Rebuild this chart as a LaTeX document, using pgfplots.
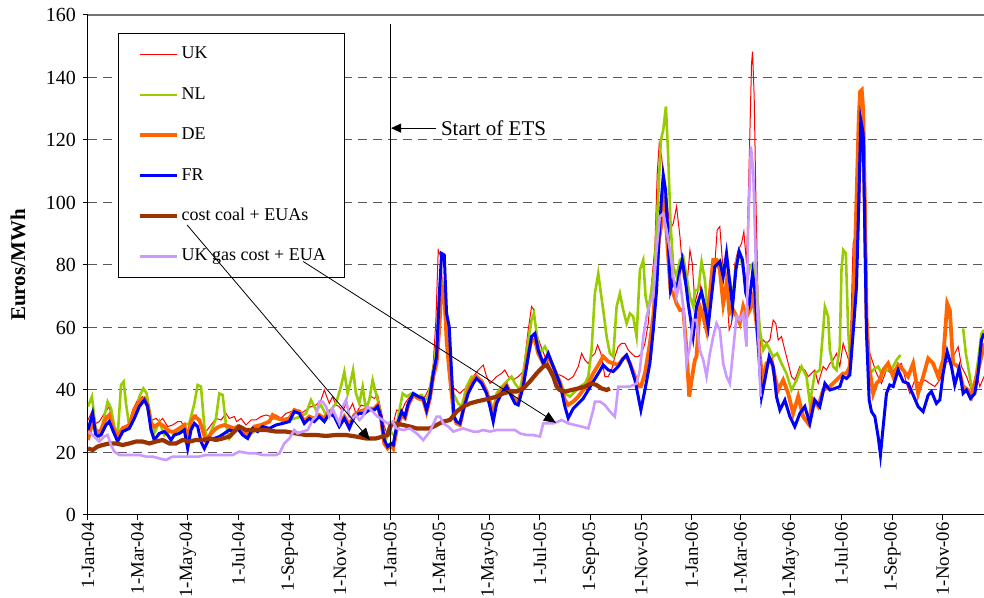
\documentclass[border=0pt]{standalone}
\usepackage{fontspec}
\setmainfont{Liberation Serif}
\usepackage{pgfplots}
\pgfplotsset{compat=1.18}
\usetikzlibrary{arrows.meta}
\definecolor{ukred}{RGB}{255,0,0}
\definecolor{nlgreen}{RGB}{153,204,0}
\definecolor{deorange}{RGB}{255,102,0}
\definecolor{frblue}{RGB}{0,0,255}
\definecolor{coalbrown}{RGB}{153,51,0}
\definecolor{gaspurple}{RGB}{204,153,255}
\begin{document}
\begin{tikzpicture}
\path[use as bounding box] (-44pt,-41.5pt) rectangle (448pt,257.5pt);
\begin{axis}[
  at={(0,0)}, anchor=south west, scale only axis,
  width=448pt, height=250pt,
  xmin=0, xmax=1085, ymin=0, ymax=160,
  axis x line*=bottom, axis y line*=left,
  axis line style={-, black, line width=0.5pt},
  xtick={0,60,121,182,244,305,366,425,486,547,609,670,731,790,851,912,974,1035},
  xticklabels={1-Jan-04,1-Mar-04,1-May-04,1-Jul-04,1-Sep-04,1-Nov-04,1-Jan-05,1-Mar-05,1-May-05,1-Jul-05,1-Sep-05,1-Nov-05,1-Jan-06,1-Mar-06,1-May-06,1-Jul-06,1-Sep-06,1-Nov-06},
  x tick label style={rotate=90, anchor=east, inner sep=1pt, font=\fontsize{9.4}{11}\selectfont},
  ytick={0,20,...,160},
  y tick label style={font=\fontsize{10}{12}\selectfont},
  /pgf/number format/assume math mode=true,
  tick align=outside, major tick length=2.5pt,
  tick style={black, line width=0.5pt},
  ymajorgrids,
  grid style={black!65, line width=0.5pt, dash pattern=on 4.5pt off 3pt},
  ylabel={\textbf{Euros/MWh}},
  ylabel style={font=\fontsize{10.5}{12}\selectfont, at={(axis description cs:-0.078,0.5)}, anchor=center},
  unbounded coords=jump,
  legend style={at={(0.0335,0.964)}, anchor=north west, draw=black, line width=0.5pt, fill=white,
    font=\fontsize{9}{10}\selectfont, inner xsep=9.5pt, inner ysep=6.25pt,
    row sep=11.7pt, column sep=1.5pt,
    nodes={inner sep=0pt, text height=6.5pt, text depth=2pt}},
  legend cell align=left,
  legend image code/.code={\draw[#1] (0pt,0pt) -- (18.5pt,0pt);},
]
% UK
\addplot[ukred, line width=0.5pt] table[row sep=\\] {
0 30.4\\ 5.6 33.6\\ 9.7 29.3\\ 13.7 29.9\\ 19.8 32.5\\ 25.8 34.7\\ 29.9 28.8\\ 35.9 26.1\\ 42 28.3\\ 48 28.3\\ 54.1 33.6\\ 60.1 36.8\\ 66.2 37.9\\ 70.2 35.7\\ 74.3 30.9\\ 78.3 30.4\\ 82.3 30.9\\ 86.4 29.9\\ 90.4 30.9\\ 96.5 28.3\\ 102.5 28.8\\ 108.6 29.9\\ 112.6 29.9\\ 116.6 28.3\\ 120.7 26.7\\ 124.7 30.9\\ 130.8 32\\ 136.8 28.3\\ 142.9 26.7\\ 148.9 28.8\\ 155 30.9\\ 161.1 30.4\\ 167.1 32.5\\ 171.1 30.9\\ 177.2 31.5\\
180 29.9\\ 185.3 30.9\\ 191.3 28.8\\ 197.4 30.4\\ 203.4 30.4\\ 209.5 31.5\\ 215.5 32\\ 221.6 31.5\\ 227.6 32\\ 233.7 30.9\\ 239.7 32.5\\ 245.8 33.1\\ 251.8 33.6\\ 257.9 32.5\\ 264 33.6\\ 270 34.7\\ 276.1 35.2\\ 282.1 36.8\\ 286.2 40\\ 289 37.9\\ 292.2 35.7\\ 296.2 37.9\\ 300.3 35.2\\ 304.3 34.7\\ 308.4 33.1\\ 312.4 35.7\\ 316.4 33.6\\ 320.5 35.7\\ 324.5 32.5\\ 330.6 35.2\\ 336.6 34.7\\ 342.7 37.9\\ 346.7 37.3\\ 350.7 38.4\\ 354.8 33.6\\ 358.8 28.3\\ 362.8 25.6\\ 366.9 27.2\\
369.6 29.3\\ 373.7 33.6\\ 379.7 33.1\\ 383.8 35.7\\ 389.8 37.9\\ 395.9 38.9\\ 401.9 37.9\\ 408 37.9\\ 414 41.1\\ 418.1 48.5\\ 421.3 62.4\\ 424.1 84.8\\ 427 82.7\\ 430.2 69.9\\ 433.4 63.5\\ 437.4 52.8\\ 441.5 41.1\\ 445.5 40\\ 450.4 38.9\\ 454.4 40\\ 460.4 41.1\\ 466.5 44.3\\ 472.6 46.4\\ 478.6 48\\ 482.6 44.3\\ 486.7 42.1\\ 490.7 43.2\\ 494.8 44.3\\ 500.8 45.3\\ 504.8 46.4\\ 508.9 44.3\\ 514.9 43.2\\ 521 44.3\\ 527 45.9\\ 533.1 59.2\\ 537.1 66.7\\ 540 65.6\\ 543.2 58.1\\ 547.2 54.9\\ 553.3 50.7\\ 557.3 48.5\\ 563.4 45.3\\
571.4 44.8\\ 575.5 44.3\\ 581.5 43.2\\ 587.6 44.3\\ 593.7 47.5\\ 597.7 51.7\\ 601.7 49.6\\ 605.8 48.5\\ 609.8 50.7\\ 613.8 51.7\\ 617.1 54.4\\ 621.1 51.7\\ 625.9 44.3\\ 630 44.3\\ 634 46.4\\ 638 50.7\\ 642.1 53.9\\ 646.1 54.9\\ 650.2 54.9\\ 654.2 52.8\\ 658.2 51.7\\ 662.3 50.7\\ 666.3 50.7\\ 670.3 51.7\\ 674.4 54.9\\ 678.4 61.3\\ 682.4 74.1\\ 686.5 85.9\\ 689.3 109.3\\ 691.7 118.9\\ 694.6 114.7\\ 697.8 105.1\\ 700.6 101.9\\ 704.6 91.2\\ 708.7 93.3\\ 712.7 98.7\\ 716.8 89.1\\ 720.8 76.3\\ 724.8 72\\ 728.9 84.8\\ 731.7 80.5\\ 734.9 67.7\\
736.9 69.9\\ 740.9 74.1\\ 745 66.7\\ 749 58.1\\ 752.2 62.4\\ 755 69.9\\ 759.1 80.5\\ 761.9 91.2\\ 765.1 92.3\\ 768.4 80.5\\ 772.4 77.3\\ 776.4 59.2\\ 779.3 61.3\\ 783.3 80.5\\ 787.3 84.8\\ 791.4 86.9\\ 794.2 90.7\\ 797.4 80.5\\ 800.6 112.5\\ 803.5 144.5\\ 804.7 148.3\\ 806.7 133.9\\ 808.7 101.9\\ 811.5 67.7\\ 814.4 53.9\\ 817.6 56\\ 821.6 54.9\\ 825.7 56\\ 829.7 62.4\\ 832.9 61.3\\ 835.8 56\\ 839.8 57.1\\ 843.8 52.8\\ 847.9 48.5\\ 851.9 44.3\\ 855.9 43.2\\ 862 47.5\\ 868 46.4\\ 872.1 44.3\\ 876.1 45.3\\ 880.1 46.4\\ 884.2 42.1\\ 890.2 47.5\\ 894.3 46.4\\ 898.3 48.5\\ 902.3 49.6\\ 906.4 51.7\\ 910.4 47.5\\
914.4 54.9\\ 918.5 51.7\\ 922.5 48.5\\ 926.5 86.9\\ 929.8 90.1\\ 932.6 84.8\\ 934.6 100.8\\ 936.6 122.1\\ 939.5 100.8\\ 942.7 63.5\\ 946.7 51.7\\ 950.8 48.5\\ 954.8 45.3\\ 960.8 42.1\\ 966.9 46.4\\ 973 45.3\\ 979 47.5\\ 985.1 48.5\\ 991.1 42.1\\ 995.2 38.9\\ 1001.2 43.2\\ 1007.3 42.1\\ 1013.3 43.2\\ 1019.4 42.1\\ 1025.4 41.1\\ 1031.5 43.2\\ 1037.5 48.5\\ 1043.6 49.6\\ 1049.6 51.7\\ 1053.7 53.9\\ 1057.7 47.5\\ 1063.8 44.3\\ 1069.8 40\\ 1075.9 45.3\\ 1079.9 41.1\\ 1085 44.3\\
};
\addlegendentry{UK}
% NL
\addplot[nlgreen, line width=1.3pt] table[row sep=\\] {
0 34.7\\ 4.8 37.9\\ 8.9 28.3\\ 13.7 25.1\\ 19.8 31.5\\ 23.8 36.3\\ 27.9 34.1\\ 31.9 28.3\\ 35.9 25.1\\ 40 41.6\\ 43.2 42.7\\ 46 35.7\\ 50 28.3\\ 56.1 30.9\\ 62.2 37.9\\ 67 40.5\\ 71 38.9\\ 75.1 32.5\\ 80.3 26.1\\ 86.4 29.9\\ 92.4 25.6\\ 98.5 27.2\\ 104.5 25.6\\ 110.6 26.7\\ 116.6 28.8\\ 122.7 29.3\\ 128.8 35.7\\ 132.8 41.6\\ 136.8 41.1\\ 140.9 28.3\\ 144.9 24\\ 148.9 26.7\\ 155 30.9\\ 159 38.9\\ 163.1 38.4\\ 167.1 28.8\\ 171.1 24.5\\ 177.2 26.7\\
181 27.7\\ 195.3 25.6\\ 209.5 28.3\\ 223.6 30.9\\ 243.8 30.4\\ 257.9 31.5\\ 264 32.5\\ 270 36.8\\ 276.1 33.6\\ 282.1 35.2\\ 288.2 32\\ 294.2 33.6\\ 300.3 35.7\\ 306.3 41.1\\ 310.4 45.8\\ 314.4 38.9\\ 318.4 43.2\\ 321 46.4\\ 324.5 38.9\\ 328.5 35.7\\ 332.6 41.1\\ 336.6 33.6\\ 340.6 36.8\\ 344.7 43.2\\ 348.7 38.9\\ 352.7 34.7\\ 356.8 28.3\\ 360.8 24\\ 364.9 27.2\\
371.7 25.1\\ 375.7 31.5\\ 381 38.9\\ 385.8 37.9\\ 391.8 38.9\\ 397.9 37.9\\ 403.9 38.4\\ 408 36.8\\ 412 37.9\\ 418.1 46.4\\ 422.1 53.9\\ 426.1 73.1\\ 429.4 74.1\\ 432.2 63.5\\ 436.2 52.8\\ 440.3 40\\ 444.3 37.9\\ 448.3 35.7\\ 452.4 34.7\\ 458.4 41.1\\ 464.5 44.3\\ 470.5 44.3\\ 476.6 43.2\\ 482.6 40\\ 486.7 36.8\\ 490.7 33.6\\ 494.8 38.9\\ 500.8 41.1\\ 506.9 42.7\\ 512.9 44.3\\ 517 42.1\\ 523 40\\ 527 45.3\\ 533.1 56\\ 537.1 62.4\\ 540 64.5\\ 543.2 58.1\\ 547.2 51.7\\ 553.3 53.9\\ 557.3 51.7\\ 563.4 47.5\\
571.4 43.2\\ 577.5 38.9\\ 583.6 37.9\\ 589.6 39.5\\ 595.7 41.1\\ 601.7 42.1\\ 605.8 44.3\\ 609.8 52.8\\ 613.8 70.9\\ 617.9 77.3\\ 621.1 70.9\\ 623.9 65.6\\ 628 57.1\\ 632 51.7\\ 636 50.7\\ 640.1 66.7\\ 644.1 70.9\\ 648.1 65.6\\ 652.2 61.3\\ 656.2 64.5\\ 660.2 63.5\\ 664.3 57.1\\ 668.3 78.4\\ 672.4 81.6\\ 675.2 69.9\\ 678.4 65.6\\ 682.4 72\\ 686.5 80.5\\ 690.5 101.9\\ 693.7 120\\ 696.6 123.2\\ 699.8 130.7\\ 702.6 114.7\\ 705.4 93.3\\ 708.7 79.5\\ 712.7 76.3\\ 716.8 81.6\\ 720.8 82.7\\ 724.8 76.3\\ 728.9 69.9\\ 732.9 66.7\\
734.9 72\\ 738.9 72\\ 743 81.1\\ 747 75.2\\ 751 62.4\\ 755 72\\ 759.1 80.5\\ 765.1 81.6\\ 769.2 78.4\\ 773.2 80.5\\ 777.2 75.2\\ 781.3 69.9\\ 785.3 81.6\\ 789.3 83.7\\ 793.4 78.4\\ 797.4 74.1\\ 801.4 79.5\\ 805.5 80.5\\ 809.5 74.1\\ 813.6 59.2\\ 817.6 52.8\\ 821.6 54.9\\ 825.7 52.8\\ 829.7 50.7\\ 834.5 51.7\\ 839.8 48.5\\ 845.8 45.3\\ 851.9 40\\ 858 43.2\\ 864 47.5\\ 870.1 44.3\\ 874.1 35.7\\ 880.1 45.3\\ 886.2 46.4\\ 890.2 59.2\\ 892.3 66.7\\ 896.3 63.5\\ 898.3 52.8\\ 902.3 47.5\\ 906.4 46.4\\ 910.4 53.9\\ 912.4 78.4\\ 914.5 84.8\\ 917.7 83.7\\ 920.5 59.2\\
923.3 47.5\\ 926.5 63.5\\ 930.6 100.8\\ 934.6 122.1\\ 938.7 116.8\\ 942.7 63.5\\ 946.7 45.3\\ 950.8 46.4\\ 956.8 47.5\\ 960.8 45.3\\ 966.9 46.4\\ 973 46.4\\ 979 49.6\\ 983.9 51.2\\ 985 nan\\
1059.7 59.7\\ 1063 51.7\\ 1065.8 47.5\\ 1069.8 41.1\\ 1073.9 42.1\\ 1077.9 49.6\\ 1081.9 58.1\\ 1085 59.2\\
};
\addlegendentry{NL}
% DE
\addplot[deorange, line width=1.9pt] table[row sep=\\] {
0 24\\ 5.6 30.4\\ 9.7 26.1\\ 15.7 27.2\\ 21.8 30.9\\ 25.8 32\\ 29.9 28.3\\ 35.9 25.1\\ 42 27.7\\ 50 28.8\\ 56.1 33.6\\ 62.2 36.3\\ 68.2 37.3\\ 72.2 35.2\\ 76.3 29.3\\ 80.3 28.3\\ 86.4 29.3\\ 92.4 28.3\\ 98.5 26.7\\ 104.5 26.7\\ 110.6 27.7\\ 116.6 28.8\\ 120.7 24\\ 124.7 29.9\\ 128.8 31.5\\ 134.8 30.4\\ 138.8 27.2\\ 142.9 23.5\\ 148.9 26.1\\ 155 27.7\\ 159 28.3\\ 165.1 28.8\\ 171.1 28.3\\ 177.2 27.7\\
181 28.3\\ 187.3 26.7\\ 195.3 25.6\\ 201.4 28.3\\ 209.5 28.8\\ 219.6 29.9\\ 223.6 32\\ 229.7 30.9\\ 235.7 30.4\\ 243.8 30.9\\ 249.8 33.6\\ 255.9 33.1\\ 261.9 29.9\\ 268 31.5\\ 274 30.9\\ 280.1 32\\ 286.2 30.9\\ 292.2 33.1\\ 298.3 32\\ 304.3 28.8\\ 310.4 31.5\\ 316.4 28.8\\ 322.5 32\\ 328.5 33.1\\ 334.6 33.6\\ 340.6 34.1\\ 346.7 34.1\\ 350.7 35.2\\ 354.8 30.9\\ 358.8 22.9\\ 362.8 21.3\\ 366.9 22.4\\
369.6 21.3\\ 373.7 27.2\\ 379.7 32\\ 383.8 31\\ 387.8 35.2\\ 393.9 38.4\\ 399.9 37.3\\ 406 36.8\\ 410 33.1\\ 414 37.3\\ 418.1 44.3\\ 422.1 48.5\\ 425.3 59.2\\ 428.2 73.1\\ 431.4 72\\ 434.2 56\\ 437.4 46.4\\ 440.3 38.9\\ 443.1 31.5\\ 446.3 29.3\\ 450.4 28.8\\ 454.4 33.6\\ 460.4 40\\ 466.5 43.2\\ 470.5 44.3\\ 476.6 42.7\\ 482.6 39.5\\ 486.7 35.7\\ 490.7 31.5\\ 494.8 36.8\\ 500.8 40\\ 506.9 41.6\\ 510.9 39.5\\ 517 36.8\\ 521 36.3\\ 527 42.1\\ 533.1 51.7\\ 537.1 56\\ 541.2 56\\ 545.2 51.7\\ 551.3 48.5\\ 557.3 50.7\\ 563.4 47.5\\
571.4 42.1\\ 577.5 36.8\\ 581.5 35.2\\ 587.6 36.3\\ 593.7 37.9\\ 599.7 40\\ 605.8 42.1\\ 611.8 45.3\\ 617.9 48\\ 623.9 50.7\\ 630 49.1\\ 636 48.5\\ 642.1 48\\ 648.1 50.1\\ 652.2 50.7\\ 656.2 48.5\\ 662.3 44.3\\ 666.3 41.1\\ 669.5 41.1\\ 674.4 45.3\\ 680.4 54.9\\ 684.5 63.5\\ 688.5 77.3\\ 691.3 88\\ 694.6 93.3\\ 696.6 100.8\\ 699.4 95.5\\ 702.6 82.7\\ 705.4 72\\ 708.7 70.9\\ 712.7 67.7\\ 716.8 65.6\\ 720.8 65.6\\ 724.8 52.8\\ 728 37.9\\ 730.9 43.2\\ 734.9 49.6\\
736.9 50.7\\ 740.9 66.7\\ 745 63.5\\ 749 59.2\\ 753 70.9\\ 757.1 81.6\\ 761.1 81.6\\ 765.1 78.4\\ 769.2 67.7\\ 773.2 74.1\\ 777.2 64.5\\ 781.3 65.6\\ 785.3 63.5\\ 789.3 61.3\\ 793.4 66.7\\ 797.4 63.5\\ 801.4 65.6\\ 805.5 69.9\\ 809.5 61.3\\ 813.6 50.7\\ 817.6 42.1\\ 821.6 48.5\\ 827.7 49.6\\ 831.7 44.3\\ 835.8 40\\ 841.8 43.2\\ 847.9 38.9\\ 853.9 32.5\\ 860 37.9\\ 866 31.5\\ 872.1 29.3\\ 878.1 36.8\\ 884.2 34.7\\ 890.2 40\\ 898.3 41.1\\ 906.4 43.2\\ 914.5 45.3\\
918.5 45.3\\ 922.5 47.5\\ 926.5 63.5\\ 930.6 100.8\\ 933.4 127.5\\ 935 135.5\\ 937 136\\ 938.7 129.6\\ 940.7 100.8\\ 942.7 63.5\\ 945.9 47.5\\ 950.8 38.9\\ 954.8 42.1\\ 958.8 43.2\\ 962.9 46.4\\ 968.9 48.5\\ 975 44.3\\ 981 48\\ 987.1 46.4\\ 993.1 44.3\\ 999.2 48.5\\ 1005.2 38.9\\ 1011.3 44.3\\ 1017.4 50.1\\ 1023.4 48.5\\ 1029.5 44.3\\ 1035.5 49.6\\ 1040.4 67.7\\ 1043.6 65.6\\ 1047.6 48.5\\ 1053.7 47.5\\ 1059.7 41.1\\ 1065.8 40\\ 1069.8 37.9\\ 1075.9 44.3\\ 1081.9 50.7\\ 1085 54.9\\
};
\addlegendentry{DE}
% FR
\addplot[frblue, line width=1.5pt] table[row sep=\\] {
0 27.2\\ 5.6 32.5\\ 9.7 25.1\\ 15.7 25.6\\ 21.8 28.8\\ 25.8 29.9\\ 29.9 27.2\\ 35.9 23.5\\ 42 26.7\\ 50 27.7\\ 56.1 30.9\\ 62.2 34.7\\ 68.2 36.8\\ 72.2 34.7\\ 76.3 27.2\\ 80.3 24\\ 86.4 26.1\\ 92.4 26.7\\ 96.5 25.6\\ 100.5 24\\ 104.5 25.6\\ 110.6 26.1\\ 116.6 27.2\\ 120.7 21.3\\ 124.7 27.2\\ 128.8 29.3\\ 132.8 28.3\\ 136.8 23.5\\ 140.9 21.3\\ 146.9 24.5\\ 153 24.5\\ 159 25.1\\ 165.1 26.1\\ 171.1 27.2\\ 177.2 26.7\\
181 27.7\\ 187.3 25.6\\ 193.3 24.5\\ 199.4 27.7\\ 205.4 26.7\\ 211.5 28.3\\ 219.6 27.7\\ 227.6 28.8\\ 235.7 29.3\\ 243.8 29.9\\ 249.8 33.1\\ 255.9 32.5\\ 261.9 29.3\\ 268 30.9\\ 274 29.9\\ 280.1 31.5\\ 286.2 29.9\\ 292.2 32.5\\ 298.3 31.5\\ 304.3 28.3\\ 310.4 30.9\\ 316.4 27.7\\ 322.5 31.5\\ 328.5 32.5\\ 334.6 32.5\\ 340.6 33.6\\ 346.7 33.6\\ 350.7 34.7\\ 354.8 31.5\\ 358.8 24\\ 362.8 21.9\\ 366.9 22.9\\
369.6 22.4\\ 373.7 28.3\\ 379.7 33.1\\ 383.8 31.5\\ 387.8 35.7\\ 393.9 38.9\\ 399.9 37.9\\ 406 37.3\\ 410 33.6\\ 414 37.9\\ 418.1 45.3\\ 422.1 50.7\\ 425.3 69.9\\ 428.2 83.7\\ 431.4 83.2\\ 434.2 64.5\\ 437.4 60.3\\ 440.3 45.3\\ 443.1 31.5\\ 446.3 29.9\\ 450.4 29.3\\ 454.4 33.6\\ 460.4 38.9\\ 466.5 42.1\\ 470.5 43.7\\ 476.6 42.1\\ 482.6 38.9\\ 486.7 34.7\\ 490.7 29.9\\ 494.8 35.7\\ 500.8 38.9\\ 506.9 41.1\\ 510.9 38.9\\ 517 35.7\\ 521 35.2\\ 527 41.1\\ 533.1 50.7\\ 537.1 57.1\\ 541.2 58.1\\ 545.2 52.8\\ 551.3 48.5\\ 557.3 51.7\\ 563.4 47.5\\
571.4 42.1\\ 577.5 34.7\\ 581.5 31\\ 587.6 34.1\\ 593.7 35.7\\ 599.7 37.3\\ 605.8 40\\ 611.8 42.7\\ 617.9 45.3\\ 623.9 48\\ 630 46.4\\ 636 45.9\\ 642.1 47.5\\ 648.1 50.1\\ 652.2 51.2\\ 656.2 48.5\\ 662.3 43.2\\ 666.3 37.9\\ 669.5 33.6\\ 674.4 40\\ 680.4 48.5\\ 684.5 59.2\\ 688.5 72\\ 691.3 88\\ 694.6 101.9\\ 696.6 108.8\\ 699.4 104\\ 702.6 88\\ 705.4 72\\ 708.7 75.2\\ 712.7 72\\ 716.8 78.4\\ 719.6 81.6\\ 722.8 76.3\\ 726.8 67.7\\
732.8 57.1\\ 736.9 66.7\\ 742.9 71.5\\ 747 66.7\\ 751 60.3\\ 755 69.9\\ 759.1 79.5\\ 765.1 81.1\\ 769.2 76.3\\ 773.2 83.7\\ 777.2 74.1\\ 780.5 66.7\\ 784.5 78.4\\ 788.5 84.3\\ 792.6 81.6\\ 796.6 70.9\\ 800.6 67.7\\ 804.7 77.3\\ 807.5 72\\ 811.5 54.9\\ 815.6 37.9\\ 819.6 43.2\\ 824.9 50.7\\ 829.7 47.5\\ 833.7 37.9\\ 837.8 33.6\\ 843.8 36.8\\ 849.9 31.5\\ 855.9 28.3\\ 862 32.5\\ 868 34.7\\ 874.1 29.3\\ 880.1 36.8\\ 886.2 34.7\\ 892.3 42.1\\ 898.3 40\\ 904.4 40.5\\
910.4 41.1\\ 914.4 44.3\\ 918.5 43.7\\ 922.5 44.8\\ 926.5 58.1\\ 930.6 73.1\\ 933.4 100.8\\ 935.8 126.4\\ 938.7 122.1\\ 940.7 90.1\\ 942.7 58.1\\ 945.9 36.8\\ 948.7 33.1\\ 952.8 31.5\\ 956.8 25.1\\ 959.6 19.2\\ 962.9 28.3\\ 966.9 38.9\\ 970.9 41.6\\ 975 41.1\\ 981 46.4\\ 987.1 42.7\\ 993.1 42.1\\ 999.2 38.4\\ 1005.2 34.7\\ 1011.3 33.1\\ 1017.4 38.4\\ 1021.4 39.5\\ 1027.4 35.7\\ 1031.5 36.8\\ 1035.5 45.3\\ 1040.4 52.3\\ 1045.6 47.5\\ 1049.6 41.6\\ 1054.9 46.9\\ 1059.7 38.9\\ 1063.8 40\\ 1068.6 37.3\\ 1073.9 38.9\\ 1077.9 45.3\\ 1081.9 56\\ 1085 58.1\\
};
\addlegendentry{FR}
% coal
\addplot[coalbrown, line width=2.1pt] table[row sep=\\] {
0 21.3\\ 5.6 20.8\\ 11.7 21.9\\ 17.8 22.4\\ 25.8 22.9\\ 33.9 22.9\\ 42 22.4\\ 50 22.9\\ 58.1 23.5\\ 66.2 23.5\\ 74.3 22.9\\ 82.3 23.5\\ 90.4 24\\ 98.5 22.9\\ 106.5 22.9\\ 114.6 24\\ 122.7 23.5\\ 130.8 24\\ 138.8 24\\ 146.9 24.5\\ 155 24\\ 163.1 24.5\\ 171.1 25.1\\ 177.2 26.7\\ 183.2 28.3\\
191.3 27.2\\ 203.4 27.2\\ 215.5 27.2\\ 227.6 26.7\\ 239.7 26.7\\ 251.8 26.1\\ 264 25.6\\ 276.1 25.6\\ 288.2 25.3\\ 300.3 25.6\\ 312.4 25.6\\ 324.5 25.1\\ 336.6 24.5\\ 348.7 24.5\\ 356.8 25.1\\ 362.8 25.6\\ 366.9 29.3\\ 372.9 29.3\\
381.7 28.8\\ 389.8 28.3\\ 397.9 27.7\\ 406 27.7\\ 414 27.7\\ 422.1 28.8\\ 430.2 29.9\\ 438.3 30.4\\ 446.3 33.1\\ 454.4 34.7\\ 462.5 35.7\\ 470.5 36.3\\ 478.6 36.8\\ 486.7 37.3\\ 494.8 37.9\\ 502.8 38.9\\ 510.9 39.5\\ 519 39.5\\ 527 40.5\\ 535.1 42.7\\ 543.2 45.3\\ 551.3 47.5\\ 555.3 48\\ 559.3 46.4\\ 563.4 44.3\\ 567.4 41.1\\
571.4 40\\ 577.5 39.5\\ 585.6 40\\ 593.7 40.5\\ 601.7 41.1\\ 609.8 42.1\\ 615.8 41.6\\ 621.9 40.5\\ 628 40\\ 632 40.5\\
};
\addlegendentry{cost coal + EUAs}
% UK gas
\addplot[gaspurple, line width=1.3pt] table[row sep=\\] {
0 26.7\\ 7.7 25.1\\ 13.7 23.5\\ 19.8 25.1\\ 23.8 25.6\\ 27.9 22.4\\ 31.9 20.3\\ 38 19.2\\ 46 19.2\\ 54.1 19.2\\ 62.2 19.2\\ 70.2 18.7\\ 78.3 18.7\\ 86.4 18.1\\ 94.4 17.6\\ 102.5 18.7\\ 110.6 18.7\\ 118.6 18.7\\ 126.7 18.7\\ 134.8 18.7\\ 142.9 19.2\\ 150.9 19.2\\ 159 19.2\\ 167.1 19.2\\ 175.2 19.2\\ 183.2 20.3\\
195.3 19.7\\ 203.4 19.7\\ 211.5 19.2\\ 219.6 19.2\\ 227.6 19.2\\ 231.7 19.7\\ 237.7 22.9\\ 243.8 24.5\\ 249.8 27.2\\ 253.9 26.1\\ 259.9 26.7\\ 266 27.2\\ 272 30.4\\ 276.1 31.5\\ 280.1 36.3\\ 284.1 36.3\\ 288.2 34.7\\ 292.2 31.5\\ 296.2 34.1\\ 300.3 31.5\\ 304.3 29.3\\ 308.4 34.7\\ 312.4 36.8\\ 316.4 31.5\\ 320.5 30.9\\ 324.5 32\\ 328.5 30.4\\ 332.6 31.5\\ 338.6 34.7\\ 344.7 33.1\\ 350.7 31.5\\ 356.8 30.4\\ 362.8 29.3\\ 368.9 29.9\\
373.7 27.7\\ 381.7 27.2\\ 389.8 27.7\\ 397.9 26.1\\ 406 24\\ 414 26.7\\ 422.1 31.5\\ 426.1 31.5\\ 430.2 29.3\\ 436.2 28.3\\ 442.3 26.7\\ 448.3 27.2\\ 454.4 27.7\\ 460.4 27.2\\ 466.5 26.7\\ 472.6 26.7\\ 478.6 27.2\\ 486.7 26.7\\ 494.8 27.2\\ 502.8 27.2\\ 510.9 27.2\\ 517 27.2\\ 523 26.1\\ 531.1 25.6\\ 539.1 25.6\\ 547.2 25.1\\ 551.3 29.3\\ 557.3 29.3\\ 563.4 29.3\\ 569.4 29.9\\
573.5 30.4\\ 581.5 29.3\\ 589.6 28.8\\ 597.7 28.3\\ 605.8 27.7\\ 611.8 33.6\\ 613.8 36.3\\ 619.9 36.3\\ 625.9 35.2\\ 632 33.1\\ 638 31.5\\ 642.1 41.1\\ 650.2 41.1\\ 656.2 41.1\\ 664.3 42.1\\ 668.3 46.4\\ 672.4 57.1\\ 676.4 63.5\\ 680.4 67.7\\ 684.5 69.9\\ 688.5 84.8\\ 692.5 95.5\\ 696.6 96.5\\ 700.6 91.2\\ 704.6 84.8\\ 708.7 76.3\\ 712.7 69.9\\ 716.8 75.2\\ 720.8 66.7\\ 724.8 48.5\\ 728.9 53.9\\ 732.9 62.4\\ 736.9 62.4\\
740.9 52.8\\ 745 49.6\\ 749 44.3\\ 753 51.7\\ 757.1 57.1\\ 761.1 61.3\\ 765.1 59.2\\ 769.2 48.5\\ 773.2 44.3\\ 777.2 42.1\\ 781.3 52.8\\ 785.3 63.5\\ 789.3 62.4\\ 793.4 64.5\\ 797.4 53.9\\ 799.4 91.2\\ 802.7 117.9\\ 805.5 110.4\\ 808.7 80.5\\ 811.5 59.2\\ 814.4 37.9\\
};
\addlegendentry{UK gas cost + EUA}
% frame top and annotations
\draw[black!55, line width=0.8pt] (axis cs:0,160) -- (axis cs:1085,160);
\draw[black, line width=0.6pt] (axis cs:366,0) -- (axis cs:366,157);
\draw[black, line width=0.5pt, -{Triangle[length=5pt,width=4.5pt]}] (axis cs:422,123.8) -- (axis cs:367,123.8);
\node[anchor=west, inner sep=0pt, font=\fontsize{10.5}{12}\selectfont] at (axis cs:427,123.8) {Start of ETS};
\coordinate (a1s) at (axis cs:120,92.8);
\coordinate (a1e) at (axis cs:341.4,24);
\coordinate (a2s) at (axis cs:260.7,81.1);
\coordinate (a2e) at (axis cs:566.6,29.5);
\end{axis}
\draw[black, line width=0.4pt, -{Triangle[length=6pt,width=5pt]}] (a1s) -- (a1e);
\draw[black, line width=0.4pt, -{Triangle[length=6pt,width=5pt]}] (a2s) -- (a2e);
\end{tikzpicture}
\end{document}
